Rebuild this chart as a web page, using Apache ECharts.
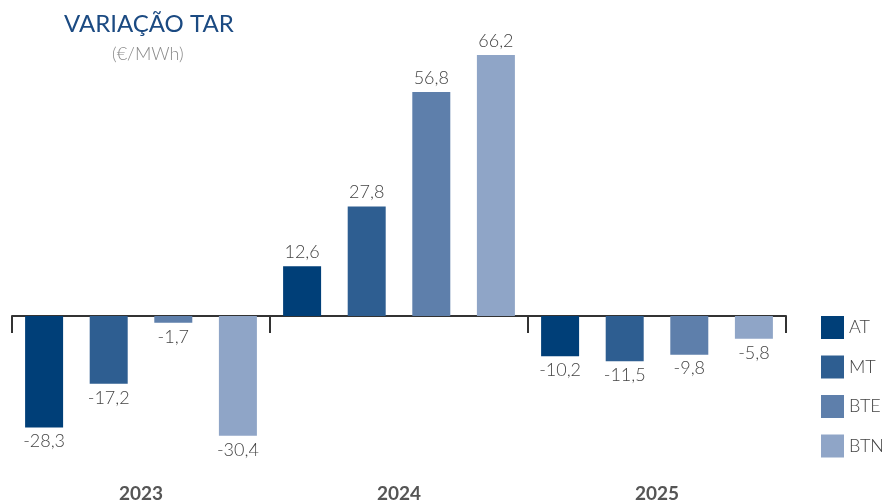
<!DOCTYPE html>
<html>
<head>
<meta charset="utf-8">
<script src="https://cdn.jsdelivr.net/npm/echarts@6/dist/echarts.min.js"></script>
<style>
  html, body { margin: 0; padding: 0; background: #fff; }
  #main { width: 892px; height: 502px; }
</style>
</head>
<body>
<div id="main"></div>
<script>
// dados
var years = ['2023', '2024', '2025'];
var seriesNames = ['AT', 'MT', 'BTE', 'BTN'];
var atValues = [-28.3, 12.6, -10.2];
var mtValues = [-17.2, 27.8, -11.5];
var bteValues = [-1.7, 56.8, -9.8];
var btnValues = [-30.4, 66.2, -5.8];
var colors = ['#003f78', '#2e5e91', '#5e7fab', '#8fa5c7'];

var chart = echarts.init(document.getElementById('main'));

function makeSeries(name, values, color) {
    return {
        name: name,
        type: 'bar',
        barWidth: 38,
        barGap: '70%',
        itemStyle: { color: color },
        label: {
            show: true,
            distance: 5,
            color: '#444',
            fontFamily: 'Lato',
            fontWeight: 300,
            fontSize: 18,
            formatter: function (p) {
                return p.value.toFixed(1).replace('.', ',');
            }
        },
        data: values.map(function (v) {
            return { value: v, label: { position: v < 0 ? 'bottom' : 'top' } };
        })
    };
}

var option = {
    animation: false,
    title: [
        {
            text: 'VARIAÇÃO TAR',
            left: 59,
            top: 7,
            textStyle: { color: '#1b4a82', fontFamily: 'Lato', fontWeight: 400, fontSize: 24 }
        },
        {
            text: '(€/MWh)',
            left: 107,
            top: 40,
            textStyle: { color: '#8a8a8a', fontFamily: 'Lato', fontWeight: 300, fontSize: 18 }
        }
    ],
    legend: {
        orient: 'vertical',
        left: 816,
        top: 311,
        itemWidth: 23,
        itemHeight: 23,
        itemGap: 16.5,
        icon: 'rect',
        data: seriesNames,
        textStyle: { color: '#444', fontFamily: 'Lato', fontWeight: 300, fontSize: 18 }
    },
    grid: { left: 12, right: 106, top: 40, bottom: 48, outerBoundsMode: 'none', containLabel: false },
    xAxis: [
        {
            type: 'category',
            data: years,
            axisLine: { lineStyle: { color: '#333', width: 2 } },
            axisTick: { show: true, length: 17, lineStyle: { color: '#333', width: 2 } },
            axisLabel: { show: false }
        },
        {
            // rótulos dos anos no fundo
            type: 'category',
            data: years,
            position: 'bottom',
            axisLine: { show: false, onZero: false },
            axisTick: { show: false },
            axisLabel: {
                margin: 30,
                color: '#555',
                fontFamily: 'Lato',
                fontWeight: 'bold',
                fontSize: 19
            }
        }
    ],
    yAxis: {
        type: 'value',
        min: -35,
        max: 70,
        show: false,
        splitLine: { show: false }
    },
    series: [
        makeSeries(seriesNames[0], atValues, colors[0]),
        makeSeries(seriesNames[1], mtValues, colors[1]),
        makeSeries(seriesNames[2], bteValues, colors[2]),
        makeSeries(seriesNames[3], btnValues, colors[3])
    ]
};
chart.setOption(option);
</script>
</body>
</html>
